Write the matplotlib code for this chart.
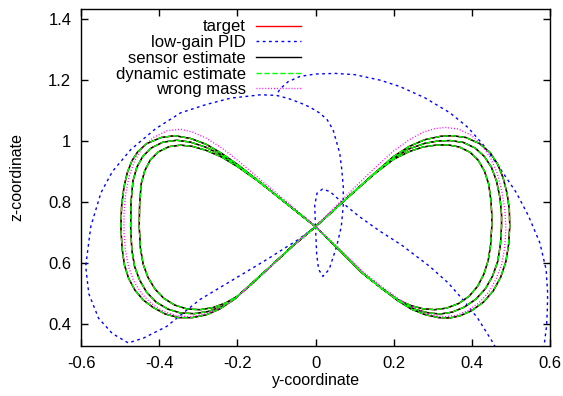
import numpy as np
import matplotlib
matplotlib.use("Agg")
import matplotlib.pyplot as plt
from matplotlib.ticker import FormatStrFormatter

plt.rcParams['font.family'] = ['Liberation Sans', 'DejaVu Sans']

# reference figure-eight, three periods (outer, middle, inner), (y, z) pairs
loop_outer = [
    (0.000, 0.720), (-0.050, 0.771), (-0.100, 0.822), (-0.150, 0.874), (-0.200, 0.924),
    (-0.240, 0.960), (-0.280, 0.990), (-0.320, 1.009), (-0.360, 1.018), (-0.395, 1.012),
    (-0.432, 0.992), (-0.455, 0.965), (-0.470, 0.935), (-0.482, 0.895), (-0.490, 0.850),
    (-0.496, 0.790), (-0.498, 0.720), (-0.495, 0.650), (-0.489, 0.595), (-0.478, 0.550),
    (-0.462, 0.512), (-0.441, 0.480), (-0.415, 0.455), (-0.385, 0.434), (-0.350, 0.422),
    (-0.315, 0.422), (-0.280, 0.431), (-0.245, 0.450), (-0.210, 0.480), (-0.170, 0.526),
    (-0.120, 0.584), (-0.060, 0.655), (0.000, 0.720),
    (0.050, 0.778), (0.100, 0.836), (0.150, 0.894), (0.200, 0.950), (0.240, 0.983),
    (0.280, 1.005), (0.320, 1.016), (0.350, 1.018), (0.385, 1.012), (0.420, 0.992),
    (0.447, 0.962), (0.466, 0.925), (0.480, 0.880), (0.490, 0.830), (0.496, 0.775),
    (0.497, 0.720), (0.494, 0.660), (0.487, 0.605), (0.474, 0.555), (0.455, 0.510),
    (0.430, 0.473), (0.400, 0.445), (0.370, 0.428), (0.345, 0.421), (0.315, 0.422),
    (0.280, 0.432), (0.245, 0.450), (0.210, 0.478), (0.170, 0.517), (0.120, 0.568),
    (0.060, 0.645), (0.000, 0.720),
]
loop_middle = [
    (0.000, 0.720), (-0.050, 0.771), (-0.100, 0.822), (-0.150, 0.873), (-0.200, 0.921),
    (-0.240, 0.954), (-0.280, 0.980), (-0.320, 0.997), (-0.355, 1.003), (-0.390, 0.997),
    (-0.420, 0.978), (-0.442, 0.950), (-0.457, 0.915), (-0.467, 0.870), (-0.472, 0.800),
    (-0.473, 0.720), (-0.470, 0.645), (-0.463, 0.590), (-0.450, 0.545), (-0.432, 0.505),
    (-0.408, 0.473), (-0.378, 0.450), (-0.345, 0.437), (-0.310, 0.435), (-0.275, 0.442),
    (-0.240, 0.458), (-0.205, 0.485), (-0.170, 0.526), (-0.120, 0.584), (-0.060, 0.655),
    (0.000, 0.720),
    (0.050, 0.778), (0.100, 0.836), (0.150, 0.893), (0.200, 0.946), (0.240, 0.975),
    (0.280, 0.993), (0.315, 1.001), (0.345, 1.002), (0.378, 0.996), (0.408, 0.978),
    (0.432, 0.950), (0.450, 0.915), (0.463, 0.870), (0.472, 0.815), (0.476, 0.760),
    (0.476, 0.720), (0.473, 0.660), (0.466, 0.605), (0.453, 0.558), (0.435, 0.517),
    (0.410, 0.482), (0.380, 0.456), (0.350, 0.440), (0.320, 0.434), (0.290, 0.437),
    (0.255, 0.449), (0.220, 0.472), (0.170, 0.517), (0.120, 0.568), (0.060, 0.645),
    (0.000, 0.720),
]
loop_inner = [
    (0.000, 0.720), (-0.050, 0.771), (-0.100, 0.822), (-0.150, 0.872), (-0.200, 0.917),
    (-0.240, 0.948), (-0.280, 0.970), (-0.315, 0.983), (-0.345, 0.987), (-0.375, 0.982),
    (-0.402, 0.965), (-0.423, 0.938), (-0.437, 0.903), (-0.446, 0.860), (-0.450, 0.795),
    (-0.451, 0.720), (-0.448, 0.650), (-0.441, 0.597), (-0.429, 0.555), (-0.411, 0.516),
    (-0.388, 0.485), (-0.360, 0.463), (-0.328, 0.450), (-0.295, 0.448), (-0.262, 0.455),
    (-0.230, 0.470), (-0.200, 0.492), (-0.165, 0.530), (-0.120, 0.584), (-0.060, 0.655),
    (0.000, 0.720),
    (0.050, 0.778), (0.100, 0.836), (0.150, 0.892), (0.200, 0.941), (0.240, 0.966),
    (0.275, 0.981), (0.308, 0.987), (0.338, 0.988), (0.368, 0.981), (0.395, 0.964),
    (0.416, 0.938), (0.432, 0.903), (0.443, 0.860), (0.449, 0.805), (0.451, 0.760),
    (0.451, 0.720), (0.448, 0.660), (0.442, 0.610), (0.431, 0.565), (0.415, 0.525),
    (0.393, 0.492), (0.366, 0.468), (0.335, 0.453), (0.305, 0.448), (0.275, 0.451),
    (0.245, 0.461), (0.210, 0.481), (0.170, 0.517), (0.120, 0.568), (0.060, 0.645),
    (0.000, 0.720),
]

# wrong mass run
wrong_mass = [
    (0.000, 0.722), (-0.050, 0.776), (-0.100, 0.830), (-0.150, 0.884), (-0.200, 0.938),
    (-0.240, 0.978), (-0.280, 1.010), (-0.315, 1.030), (-0.345, 1.039), (-0.380, 1.034),
    (-0.415, 1.012), (-0.443, 0.978), (-0.463, 0.935), (-0.477, 0.885), (-0.486, 0.825),
    (-0.490, 0.760), (-0.490, 0.700), (-0.486, 0.640), (-0.478, 0.588), (-0.465, 0.542),
    (-0.446, 0.502), (-0.420, 0.468), (-0.390, 0.443), (-0.355, 0.428), (-0.320, 0.425),
    (-0.285, 0.433), (-0.250, 0.450), (-0.210, 0.480), (-0.170, 0.524), (-0.120, 0.582),
    (-0.060, 0.654), (0.000, 0.722),
    (0.050, 0.785), (0.100, 0.848), (0.150, 0.910), (0.200, 0.968), (0.240, 1.005),
    (0.275, 1.029), (0.305, 1.041), (0.332, 1.045), (0.365, 1.040), (0.398, 1.020),
    (0.426, 0.988), (0.448, 0.945), (0.465, 0.895), (0.477, 0.835), (0.485, 0.770),
    (0.487, 0.710), (0.484, 0.650), (0.476, 0.595), (0.462, 0.548), (0.443, 0.505),
    (0.418, 0.470), (0.390, 0.445), (0.360, 0.429), (0.330, 0.425), (0.295, 0.431),
    (0.260, 0.448), (0.220, 0.477), (0.175, 0.518), (0.120, 0.574), (0.060, 0.648),
    (0.000, 0.722),
]

# low-gain PID run; it leaves the plot at the bottom and comes back in (None = gap)
low_gain = [
    (0.000, 0.720), (0.003, 0.630), (0.008, 0.580), (0.019, 0.557), (0.035, 0.580),
    (0.054, 0.655), (0.066, 0.720), (0.071, 0.790), (0.071, 0.852), (0.067, 0.910),
    (0.062, 0.961), (0.045, 1.037), (0.030, 1.070), (0.011, 1.092), (-0.015, 1.112),
    (-0.040, 1.126), (-0.070, 1.140), (-0.100, 1.150), (-0.140, 1.152), (-0.217, 1.141),
    (-0.280, 1.120), (-0.345, 1.093), (-0.410, 1.040), (-0.473, 0.972), (-0.520, 0.900),
    (-0.549, 0.831), (-0.575, 0.720), (-0.588, 0.590), (-0.580, 0.500), (-0.555, 0.420),
    (-0.520, 0.370), (-0.479, 0.339), (-0.440, 0.355), (-0.381, 0.393), (-0.296, 0.481),
    (-0.211, 0.546), (-0.125, 0.612), (-0.045, 0.677), (0.000, 0.720), (-0.002, 0.790),
    (0.004, 0.830), (0.018, 0.843), (0.037, 0.835), (0.070, 0.797), (0.110, 0.755),
    (0.165, 0.705), (0.220, 0.660), (0.292, 0.590), (0.340, 0.535), (0.377, 0.481),
    (0.415, 0.420), (0.454, 0.340), (0.470, 0.300),
    None,
    (0.582, 0.300), (0.591, 0.393), (0.593, 0.440), (0.594, 0.503), (0.590, 0.580),
    (0.574, 0.667), (0.545, 0.755), (0.514, 0.831), (0.470, 0.915), (0.428, 0.990),
    (0.390, 1.045), (0.344, 1.093), (0.280, 1.142), (0.216, 1.179), (0.165, 1.200),
    (0.100, 1.218), (0.050, 1.222), (0.000, 1.220), (-0.040, 1.212), (-0.070, 1.195),
    (-0.090, 1.172), (-0.100, 1.152),
]

y_ticks = [-0.6, -0.4, -0.2, 0, 0.2, 0.4, 0.6]
z_ticks = [0.4, 0.6, 0.8, 1.0, 1.2, 1.4]


def to_xy(points):
    arr = np.array([(np.nan, np.nan) if p is None else p for p in points], dtype=float)
    return arr[:, 0], arr[:, 1]


target = loop_outer + loop_middle[1:] + loop_inner[1:]
ty, tz = to_xy(target)
by, bz = to_xy(low_gain)
my, mz = to_xy(wrong_mass)

fig = plt.figure(figsize=(5.63, 3.96), dpi=100)
ax = fig.add_axes([81 / 563, 1 - 345.7 / 396, 469 / 563, 336.7 / 396])

ax.plot(ty, tz, color='#ff0000', lw=1.0, label='target')
ax.plot(by, bz, color='#0000ff', lw=1.0, dashes=(2, 2.5), label='low-gain PID')
ax.plot(ty, tz, color='black', lw=1.0, label='sensor estimate')
ax.plot(ty, tz, color='#00ff00', lw=1.0, dashes=(3.8, 1.9), label='dynamic estimate')
ax.plot(my, mz, color='#ff00ff', lw=1.0, dashes=(0.7, 1.4), label='wrong mass')

ax.set_xlim(-0.6, 0.6)
ax.set_ylim(0.33, 1.433)
ax.set_xticks(y_ticks)
ax.set_yticks(z_ticks)
ax.xaxis.set_major_formatter(FormatStrFormatter('%g'))
ax.yaxis.set_major_formatter(FormatStrFormatter('%g'))
ax.tick_params(direction='in', length=5, width=1, top=True, right=True,
               labelsize=12, colors='black')
ax.tick_params(axis='x', pad=7.5)
ax.tick_params(axis='y', pad=7)
for sp in ax.spines.values():
    sp.set_linewidth(1)

fig.text(316 / 563, 1 - 381 / 396, 'y-coordinate', ha='center', va='center', fontsize=11.5)
fig.text(17 / 563, 1 - 177 / 396, 'z-coordinate', ha='center', va='center',
         rotation=90, fontsize=11.5)

ax.legend(loc='upper right', bbox_to_anchor=(301 / 563, 1 - 19.5 / 396),
          bbox_transform=fig.transFigure, frameon=False, markerfirst=False,
          fontsize=12, handlelength=2.7, handletextpad=0.6, labelspacing=0.04,
          borderpad=0, borderaxespad=0)

fig.savefig('out.png', dpi=100)
